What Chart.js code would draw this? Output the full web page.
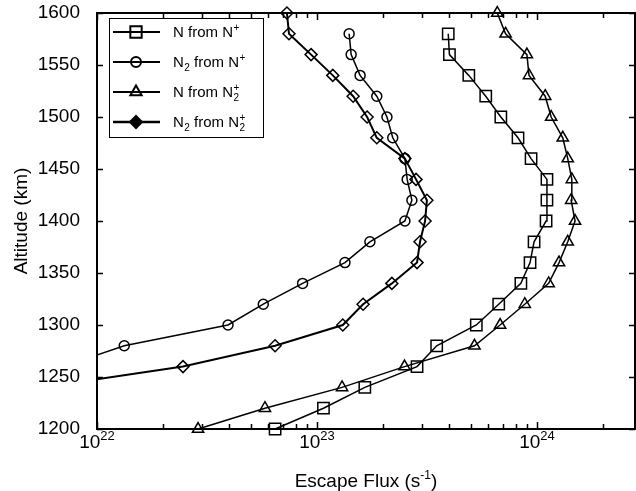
<!DOCTYPE html>
<html>
<head>
<meta charset="utf-8">
<script src="https://cdn.jsdelivr.net/npm/chart.js@4.4.1/dist/chart.umd.min.js"></script>
<style>
  html, body { margin: 0; padding: 0; background: #fff; }
</style>
</head>
<body>
<canvas id="fluxChart" width="636" height="491"></canvas>
<script>
// Altitudes (km) and escape fluxes (s^-1) --------------------------------------
var altNfromNp = [1200, 1220, 1240, 1260, 1280, 1300, 1320, 1340, 1360, 1380,
                  1400, 1420, 1440, 1460, 1480, 1500, 1520, 1540, 1560, 1580];
var fluxNfromNp = [6.45e22, 1.07e23, 1.65e23, 2.85e23, 3.5e23, 5.3e23, 6.7e23, 8.45e23, 9.3e23, 9.7e23,
                   1.10e24, 1.11e24, 1.11e24, 9.4e23, 8.2e23, 6.85e23, 5.85e23, 4.9e23, 4.0e23, 3.95e23];

var altN2fromNp = [1260, 1280, 1300, 1320, 1340, 1360, 1380, 1400, 1420,
                   1440, 1460, 1480, 1500, 1520, 1540, 1560, 1580];
var fluxN2fromNp = [7.0e21, 1.33e22, 3.94e22, 5.7e22, 8.6e22, 1.34e23, 1.74e23, 2.51e23, 2.7e23,
                    2.57e23, 2.51e23, 2.21e23, 2.08e23, 1.87e23, 1.57e23, 1.43e23, 1.40e23];

var altNfromN2p = [1200, 1220, 1240, 1260, 1280, 1300, 1320, 1340, 1360, 1380, 1400,
                   1420, 1440, 1460, 1480, 1500, 1520, 1540, 1560, 1580, 1600];
var fluxNfromN2p = [2.88e22, 5.8e22, 1.3e23, 2.5e23, 5.2e23, 6.8e23, 8.8e23, 1.13e24, 1.26e24, 1.38e24, 1.49e24,
                    1.43e24, 1.44e24, 1.38e24, 1.31e24, 1.16e24, 1.09e24, 9.2e23, 9.0e23, 7.2e23, 6.6e23];

var altN2fromN2p = [1240, 1260, 1280, 1300, 1320, 1340, 1360, 1380, 1400, 1420,
                    1440, 1460, 1480, 1500, 1520, 1540, 1560, 1580, 1600];
var fluxN2fromN2p = [5.6e21, 2.46e22, 6.45e22, 1.31e23, 1.62e23, 2.19e23, 2.85e23, 2.94e23, 3.1e23, 3.16e23,
                     2.82e23, 2.51e23, 1.87e23, 1.69e23, 1.46e23, 1.18e23, 9.4e22, 7.46e22, 7.3e22];

// axis ticks
var xDecades = [22, 23, 24];
var yTicks = [1200, 1250, 1300, 1350, 1400, 1450, 1500, 1550, 1600];

// legend text, pieces: [text, kind] kind = '' | 'sup' | 'sub' | 'both' ("sup|sub")
var legendParts = [
    [['N from N', ''], ['+', 'sup']],
    [['N', ''], ['2', 'sub'], [' from N', ''], ['+', 'sup']],
    [['N from N', ''], ['+|2', 'both']],
    [['N', ''], ['2', 'sub'], [' from N', ''], ['+|2', 'both']]
];

var FONT = '"Liberation Sans", Arial, Helvetica, sans-serif';

function toPoints(xs, ys) {
    return xs.map(function (v, i) { return { x: v, y: ys[i] }; });
}

// frame, inward ticks, x labels with exponents, custom legend ---------------
var decorations = {
    id: 'decorations',
    afterDraw: function (chart) {
        var ctx = chart.ctx, a = chart.chartArea;
        var xs = chart.scales.x, ys = chart.scales.y;
        ctx.save();
        ctx.strokeStyle = '#000';
        ctx.fillStyle = '#000';

        // minor/major ticks on x (bottom and top)
        ctx.lineWidth = 1.5;
        xDecades.forEach(function (d) {
            for (var k = 1; k <= 9; k++) {
                var v = k * Math.pow(10, d);
                if (v < xs.min || v > xs.max) continue;
                var px = Math.round(xs.getPixelForValue(v)) + 0.5;
                var len = k === 1 ? 7 : 5;
                ctx.beginPath();
                ctx.moveTo(px, a.bottom); ctx.lineTo(px, a.bottom - len);
                ctx.moveTo(px, a.top); ctx.lineTo(px, a.top + len);
                ctx.stroke();
            }
        });
        // ticks on y (left and right)
        yTicks.forEach(function (t) {
            var py = Math.round(ys.getPixelForValue(t)) + 0.5;
            ctx.beginPath();
            ctx.moveTo(a.left, py); ctx.lineTo(a.left + 6, py);
            ctx.moveTo(a.right, py); ctx.lineTo(a.right - 6, py);
            ctx.stroke();
        });

        // frame
        ctx.lineWidth = 2;
        ctx.strokeRect(a.left, a.top, a.right - a.left, a.bottom - a.top);

        // x tick labels 10^n
        ctx.textBaseline = 'alphabetic';
        ctx.textAlign = 'left';
        xDecades.forEach(function (d) {
            var px = xs.getPixelForValue(Math.pow(10, d));
            ctx.font = '19px ' + FONT;
            var wb = ctx.measureText('10').width;
            ctx.font = '13px ' + FONT;
            var we = ctx.measureText(String(d)).width;
            var x0 = px - (wb + we) / 2;
            ctx.font = '19px ' + FONT;
            ctx.fillText('10', x0, a.bottom + 19);
            ctx.font = '13px ' + FONT;
            ctx.fillText(String(d), x0 + wb, a.bottom + 11);
        });

        // x axis title with superscript
        var cx = (a.left + a.right) / 2;
        ctx.font = '19px ' + FONT;
        var t1 = 'Escape Flux (s', t3 = ')';
        var w1 = ctx.measureText(t1).width, w3 = ctx.measureText(t3).width;
        ctx.font = '12px ' + FONT;
        var t2 = '-1', w2 = ctx.measureText(t2).width;
        var xt = cx - (w1 + w2 + w3) / 2, yt = a.bottom + 58;
        ctx.font = '19px ' + FONT;
        ctx.fillText(t1, xt, yt);
        ctx.fillText(t3, xt + w1 + w2, yt);
        ctx.font = '12px ' + FONT;
        ctx.fillText(t2, xt + w1, yt - 8);

        // legend box
        var lx = 109, ly = 18, lw = 154, lh = 119;
        ctx.fillStyle = '#fff';
        ctx.fillRect(lx, ly, lw, lh);
        ctx.lineWidth = 1;
        ctx.strokeStyle = '#000';
        ctx.strokeRect(lx + 0.5, ly + 0.5, lw, lh);
        chart.data.datasets.forEach(function (ds, i) {
            var y = ly + 14 + i * 30;
            ctx.strokeStyle = '#000';
            ctx.lineWidth = ds.borderWidth + 0.5;
            ctx.beginPath();
            ctx.moveTo(lx + 4, y); ctx.lineTo(lx + 51, y);
            ctx.stroke();
            ctx.fillStyle = i === 3 ? '#000' : 'rgba(0,0,0,0)';
            ctx.lineWidth = ds.pointBorderWidth + 0.5;
            Chart.helpers.drawPoint(ctx, {
                pointStyle: ds.pointStyle, radius: ds.pointRadius,
                borderWidth: ds.pointBorderWidth + 0.5, rotation: 0
            }, lx + 27, y);
            // text
            ctx.fillStyle = '#000';
            var x = lx + 64;
            legendParts[i].forEach(function (p) {
                if (p[1] === '') {
                    ctx.font = '15px ' + FONT;
                    ctx.fillText(p[0], x, y + 5);
                    x += ctx.measureText(p[0]).width;
                } else if (p[1] === 'sup') {
                    ctx.font = '10px ' + FONT;
                    ctx.fillText(p[0], x + 0.5, y - 1);
                    x += ctx.measureText(p[0]).width + 0.5;
                } else if (p[1] === 'sub') {
                    ctx.font = '10px ' + FONT;
                    ctx.fillText(p[0], x + 0.5, y + 9);
                    x += ctx.measureText(p[0]).width + 0.5;
                } else {
                    var s = p[0].split('|');
                    ctx.font = '10px ' + FONT;
                    ctx.fillText(s[0], x + 0.5, y - 1);
                    ctx.fillText(s[1], x + 0.5, y + 9);
                    x += Math.max(ctx.measureText(s[0]).width, ctx.measureText(s[1]).width) + 0.5;
                }
            });
        });
        ctx.restore();
    }
};

function seriesStyle(label, xs, ys, style, radius, lw) {
    return {
        label: label,
        data: toPoints(xs, ys),
        borderColor: '#000',
        backgroundColor: 'rgba(0,0,0,0)',
        borderWidth: lw,
        pointStyle: style,
        pointRadius: radius,
        pointBorderWidth: 1.5,
        pointBorderColor: '#000',
        pointBackgroundColor: 'rgba(0,0,0,0)',
        tension: 0,
        clip: { left: 0, right: 0, top: 10, bottom: 10 }
    };
}

function noPad(scale) {
    scale.paddingTop = 0;
    scale.paddingBottom = 0;
    scale.paddingLeft = 0;
    scale.paddingRight = 0;
}

var ctxFlux = document.getElementById('fluxChart');

var chart = new Chart(ctxFlux, {
    type: 'line',
    data: {
        datasets: [
            seriesStyle('N from N+', fluxNfromNp, altNfromNp, 'rect', 8, 1.5),
            seriesStyle('N2 from N+', fluxN2fromNp, altN2fromNp, 'circle', 5, 1.5),
            seriesStyle('N from N2+', fluxNfromN2p, altNfromN2p, 'triangle', 6.5, 1.5),
            seriesStyle('N2 from N2+', fluxN2fromN2p, altN2fromN2p, 'rectRot', 6, 2)
        ]
    },
    options: {
        responsive: false,
        animation: false,
        devicePixelRatio: 1,
        layout: { autoPadding: false, padding: { top: 13, right: 1, left: 0, bottom: 0 } },
        plugins: {
            legend: { display: false },
            tooltip: { enabled: false }
        },
        scales: {
            x: {
                type: 'logarithmic',
                min: 1e22,
                max: 2.79e24,
                grid: { display: false },
                border: { display: false },
                ticks: { display: false },
                afterFit: function (scale) { scale.height = 62; noPad(scale); }
            },
            y: {
                type: 'linear',
                min: 1200,
                max: 1600,
                grid: { display: false },
                border: { display: false },
                ticks: {
                    stepSize: 50,
                    color: '#000',
                    padding: 9,
                    font: { family: FONT, size: 19 },
                    callback: function (v) { return String(v); }
                },
                title: {
                    display: true,
                    text: 'Altitude (km)',
                    color: '#000',
                    padding: { top: 10, bottom: 0 },
                    font: { family: FONT, size: 19 }
                },
                afterFit: function (scale) { scale.width = 97; noPad(scale); }
            }
        }
    },
    plugins: [decorations]
});
</script>
</body>
</html>
